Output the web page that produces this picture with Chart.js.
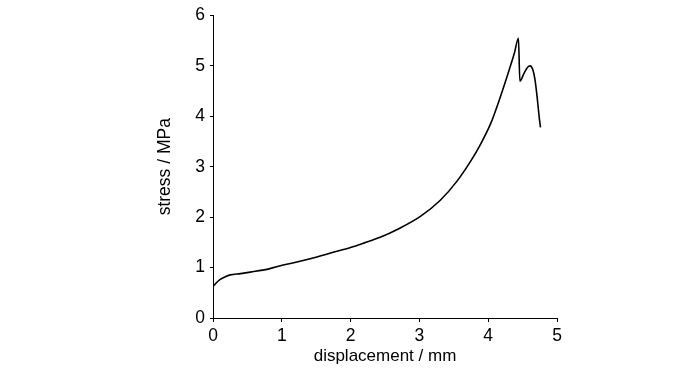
<!DOCTYPE html>
<html>
<head>
<meta charset="utf-8">
<script src="https://cdn.jsdelivr.net/npm/chart.js@4"></script>
<style>
  html, body { margin: 0; padding: 0; background: #fff; }
  #wrap { width: 700px; height: 373px; }
</style>
</head>
<body>
<div id="wrap"><canvas id="stress-chart" width="700" height="373"></canvas></div>
<script>
// displacement (mm) / stress (MPa)
const displacement = [0, 0.05, 0.1, 0.18, 0.25, 0.4, 0.54, 0.8, 1.02, 1.25, 1.51, 1.71, 2.0, 2.2, 2.43, 2.7, 3.02, 3.3, 3.55, 3.75, 3.89, 4.04, 4.18, 4.3, 4.38, 4.44, 4.46, 4.52, 4.57, 4.61, 4.65, 4.68, 4.71, 4.74, 4.76];
const stress = [0.62, 0.70, 0.76, 0.82, 0.855, 0.88, 0.91, 0.97, 1.05, 1.12, 1.21, 1.29, 1.40, 1.49, 1.60, 1.77, 2.02, 2.33, 2.72, 3.12, 3.45, 3.87, 4.4, 4.9, 5.25, 5.55, 4.70, 4.85, 4.97, 5.0, 4.92, 4.73, 4.4, 4.0, 3.78];
const xTicks = [0, 1, 2, 3, 4, 5];
const yTicks = [0, 1, 2, 3, 4, 5, 6];

let points = [];
for (let i = 0; i < displacement.length; i++) {
    points.push({x: displacement[i], y: stress[i]});
}

const fontFam = '"Liberation Sans", Arial, sans-serif';

let ctx = document.getElementById('stress-chart').getContext('2d');
let chart = new Chart(ctx, {
    type: 'scatter',
    data: {
        datasets: [{
            data: points,
            showLine: true,
            borderColor: '#000',
            borderWidth: 1.6,
            pointRadius: 0,
            cubicInterpolationMode: 'monotone',
            fill: false
        }]
    },
    options: {
        responsive: false,
        animation: false,
        events: [],
        layout: { padding: { left: 150, right: 143, top: 14, bottom: 0 } },
        plugins: { legend: { display: false }, tooltip: { enabled: false } },
        scales: {
            x: {
                type: 'linear', min: 0, max: 5,
                afterFit: function(scale) { scale.height = 55; },
                afterBuildTicks: function(scale) { scale.ticks = xTicks.map(v => ({value: v})); },
                border: { display: true, color: '#000', width: 1 },
                grid: { display: true, drawOnChartArea: false, drawTicks: true, tickLength: 4, color: '#000' },
                ticks: { color: '#000', padding: 4, font: { family: fontFam, size: 17.5 } },
                title: { display: true, text: 'displacement / mm', color: '#000',
                         font: { family: fontFam, size: 17 }, padding: { top: 0, bottom: 6 } }
            },
            y: {
                type: 'linear', min: 0, max: 6,
                afterFit: function(scale) { scale.width = 63; },
                afterBuildTicks: function(scale) { scale.ticks = yTicks.map(v => ({value: v})); },
                border: { display: true, color: '#000', width: 1 },
                grid: { display: true, drawOnChartArea: false, drawTicks: true, tickLength: 3, color: '#000' },
                ticks: { color: '#000', padding: 5, font: { family: fontFam, size: 17.5 } },
                title: { display: true, text: 'stress / MPa', color: '#000',
                         font: { family: fontFam, size: 17.5 }, padding: { top: 5, bottom: 0 } }
            }
        }
    }
});
</script>
</body>
</html>
